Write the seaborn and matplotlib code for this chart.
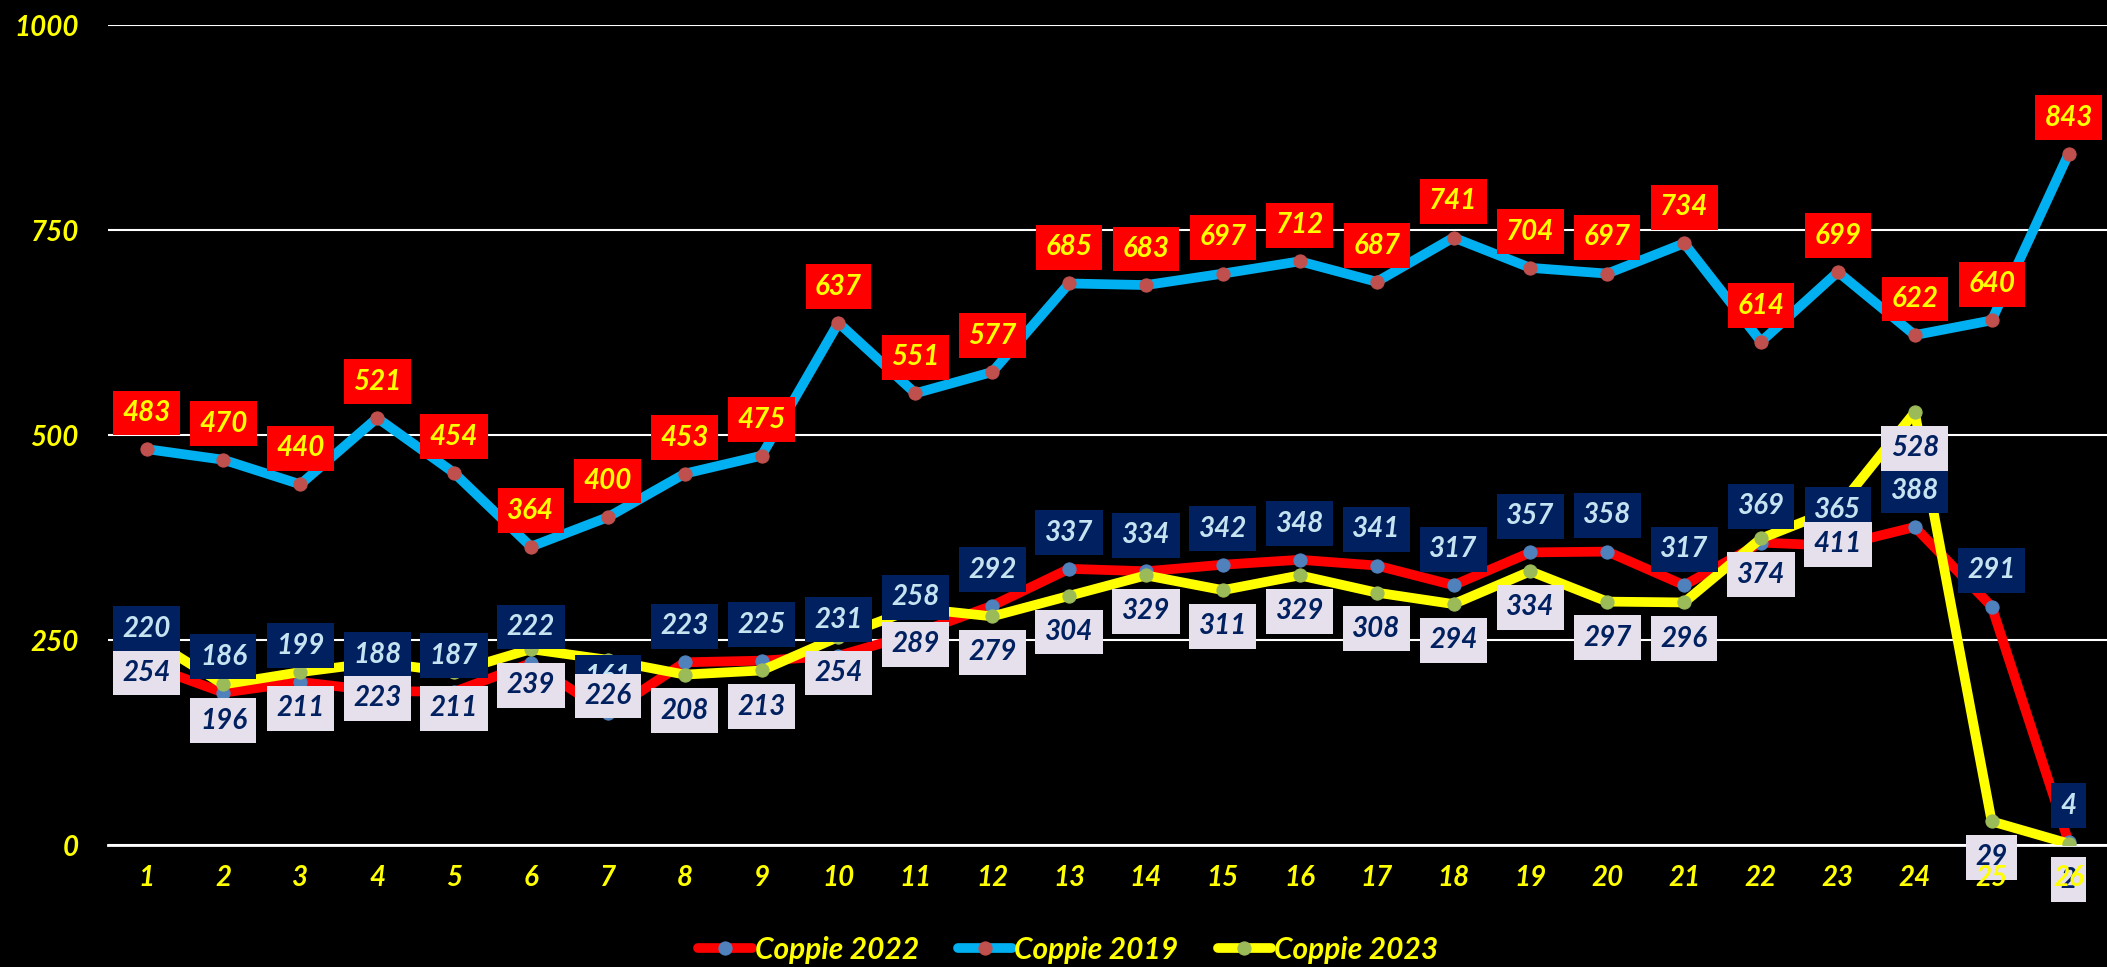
import numpy as np
import pandas as pd
import seaborn as sns
import matplotlib.pyplot as plt

# dati
giorni = list(range(1, 27))
coppie_2022 = [220, 186, 199, 188, 187, 222, 161, 223, 225, 231, 258, 292, 337,
               334, 342, 348, 341, 317, 357, 358, 317, 369, 365, 388, 291, 4]
coppie_2019 = [483, 470, 440, 521, 454, 364, 400, 453, 475, 637, 551, 577, 685,
               683, 697, 712, 687, 741, 704, 697, 734, 614, 699, 622, 640, 843]
coppie_2023 = [254, 196, 211, 223, 211, 239, 226, 208, 213, 254, 289, 279, 304,
               329, 311, 329, 308, 294, 334, 297, 296, 374, 411, 528, 29, 2]
y_ticks = [0, 250, 500, 750, 1000]

sns.set_style("white", {"axes.facecolor": "black", "figure.facecolor": "black"})
plt.rcParams['font.family'] = ['Lato', 'DejaVu Sans']
plt.rcParams['font.style'] = 'italic'
plt.rcParams['font.weight'] = 'bold'

fig = plt.figure(figsize=(21.07, 9.67), dpi=100)
ax = fig.add_axes([0.0513, 0.126, 0.9487, 0.848])

# nome, valori, colore linea, colore marker, direzione etichetta, box, testo
serie = [
    ("Coppie 2022", coppie_2022, "#FF0000", "#4F81BD", 1, "#002060", "#C5E3F0"),
    ("Coppie 2019", coppie_2019, "#00B0F0", "#C0504D", 1, "#FF0000", "#FFFF00"),
    ("Coppie 2023", coppie_2023, "#FFFF00", "#9BBB59", -1, "#E6E0EC", "#002060"),
]
z_label = {"Coppie 2019": 5, "Coppie 2022": 6, "Coppie 2023": 7}

handles = []
for i, (nome, valori, col, mk, verso, box, txt) in enumerate(serie):
    df = pd.DataFrame({"giorno": giorni, "valore": valori})
    sns.lineplot(data=df, x="giorno", y="valore", ax=ax, color=col, lw=7,
                 marker="o", markersize=9.5, markerfacecolor=mk,
                 markeredgecolor=mk, zorder=3 + i * 0.1, legend=False)
    handles.append(ax.lines[-1])
    for g, v in zip(giorni, valori):
        ax.annotate(str(v), (g, v), xytext=(0, 26 * verso), textcoords="offset points",
                    ha="center", va="center", fontsize=20, color=txt,
                    bbox=dict(boxstyle="square,pad=0.34", fc=box, ec="none"),
                    zorder=z_label[nome], annotation_clip=False)

ax.set_xlim(0.5, 26.5)
ax.set_ylim(0, 1000)
ax.set_xlabel("")
ax.set_ylabel("")
ax.set_xticks(giorni)
ax.set_xticklabels([str(g) for g in giorni])
ax.set_xticks(np.arange(0.5, 27, 1), minor=True)
ax.set_yticks(y_ticks)
ax.tick_params(axis="x", which="major", length=0, pad=14, labelsize=20, labelcolor="#FFFF00")
ax.tick_params(axis="x", which="minor", length=10, width=1.5, color="white", direction="out")
ax.tick_params(axis="y", length=0, pad=21, labelsize=20, labelcolor="#FFFF00")
ax.yaxis.grid(True, color="white", lw=1.5)
ax.xaxis.grid(False)
for s in ["left", "top", "right"]:
    ax.spines[s].set_visible(False)
ax.spines["bottom"].set_color("white")
ax.spines["bottom"].set_linewidth(2)
ax.xaxis.set_zorder(10)

leg = fig.legend(handles, [s[0] for s in serie], loc="center", bbox_to_anchor=(0.507, 0.018),
                 ncol=3, frameon=False, fontsize=21.5, handlelength=1.8,
                 handletextpad=0.1, columnspacing=1.3, numpoints=1)
for t in leg.get_texts():
    t.set_color("#FFFF00")

fig.savefig("out.png", dpi=100, facecolor="black")
